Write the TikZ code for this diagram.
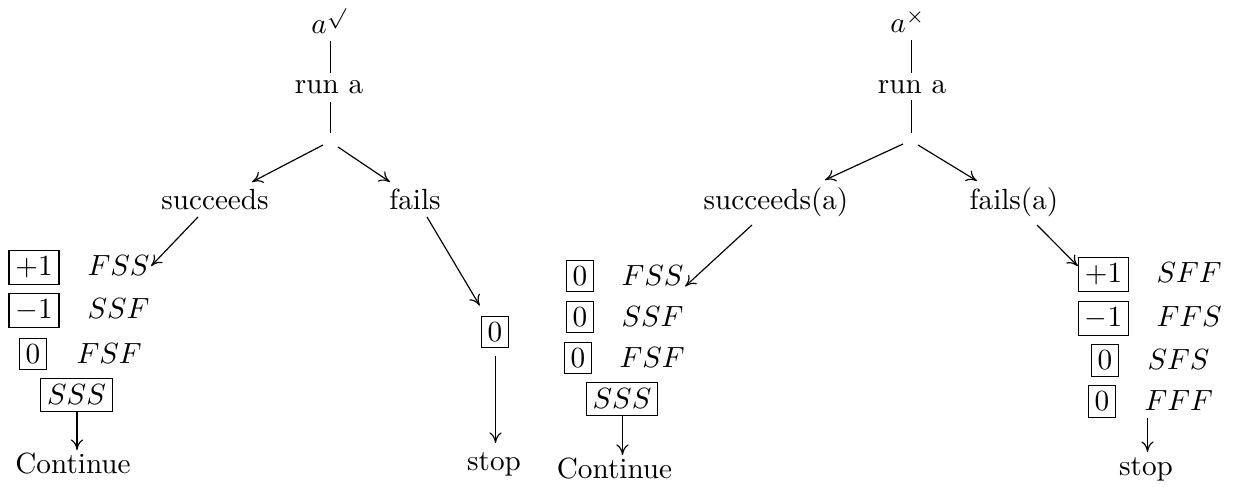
\documentclass[tikz,border=0pt]{standalone}
\usetikzlibrary{calc,arrows.meta}
\begin{document}
\begin{tikzpicture}[x=0.3425pt,y=-0.3425pt,>={To[length=3.6pt,width=4.2pt]},
  lab/.style={inner sep=0pt,anchor=base},
  lw/.style={inner sep=0pt,anchor=base west},
  vbox/.style={draw,inner sep=2.2pt,anchor=base}]
\useasboundingbox (0,0) rectangle (1239,487);
% ---------------- left tree ----------------
\node[lab] (aL) at (329.5,34) {$a^{\surd}$};
\node[lab] (runL) at (329,94) {run a};
\coordinate (splitL) at (330,140);
\node[lab] (succL) at (215,210) {succeeds};
\node[lab] (failL) at (415,210) {fails};
% rows under succeeds
\node[vbox] (b1L) at (34,276) {$+1$};
\node[lw] (fssL) at (87,276) {$FSS$};
\node[vbox] (b2L) at (34,319) {$-1$};
\node[lw] (ssfL) at (87,319) {$SSF$};
\node[vbox] (b3L) at (33,363.4) {$0$};
\node[lw] (fsfL) at (76,363.4) {$FSF$};
\node[vbox] (sssL) at (76.5,404.8) {$SSS$};
\node[lab] (contL) at (73,474) {Continue};
% under fails
\node[vbox] (b4L) at (495,341.4) {$0$};
\node[lab] (stopL) at (494,471) {stop};
% connectors
\draw ($(aL.base -| runL.base)+(1.5,7)$) -- ($(runL.base)+(1.5,-21)$);
\draw ($(runL.base)+(1.5,8)$) -- ($(splitL)+(0.5,-7)$);
\draw[->] ($(splitL)+(-7,5)$) -- ($(succL.base)+(37,-28)$);
\draw[->] ($(splitL)+(8,7)$) -- ($(failL.base)+(-25,-28)$);
\draw[->] ($(succL.base)+(-17,7)$) -- ($(fssL.east)+(1,0)$);
\draw[->] ($(failL.base)+(12,7)$) -- ($(b4L.north west)+(-1,-10)$);
\draw[->] ($(sssL.south)+(0.5,0)$) -- ($(sssL.south |- contL.base)+(0.5,-24)$);
\draw[->] ($(b4L.south)+(0.5,8)$) -- ($(b4L.south |- stopL.base)+(0.5,-28)$);
% ---------------- right tree ----------------
\node[lab] (aR) at (908,33) {$a^{\times}$};
\node[lab] (runR) at (912,94) {run a};
\coordinate (splitR) at (911,140);
\node[lab] (succR) at (776,210) {succeeds(a)};
\node[lab] (failR) at (1014,210) {fails(a)};
% rows under succeeds(a)
\node[vbox] (b1R) at (580,285.4) {$0$};
\node[lw] (fssR) at (621,285.4) {$FSS$};
\node[vbox] (b2R) at (580,326.4) {$0$};
\node[lw] (ssfR) at (621,326.4) {$SSF$};
\node[vbox] (b3R) at (578,367.4) {$0$};
\node[lw] (fsfR) at (619,367.4) {$FSF$};
\node[vbox] (sssR) at (622,408.8) {$SSS$};
\node[lab] (contR) at (614.5,479) {Continue};
% rows under fails(a)
\node[vbox] (b5R) at (1103.5,283) {$+1$};
\node[lw] (sffR) at (1156,283) {$SFF$};
\node[vbox] (b6R) at (1103.5,327) {$-1$};
\node[lw] (ffsR) at (1156,327) {$FFS$};
\node[vbox] (b7R) at (1105,370) {$0$};
\node[lw] (sfsR) at (1147,370) {$SFS$};
\node[vbox] (b8R) at (1102,411) {$0$};
\node[lw] (fffR) at (1144,411) {$FFF$};
\node[lab] (stopR) at (1146,476) {stop};
% connectors
\draw ($(aR.base -| runR.base)+(-0.5,7)$) -- ($(runR.base)+(-0.5,-21)$);
\draw ($(runR.base)+(-0.5,6)$) -- ($(splitR)+(0.5,-7)$);
\draw[->] ($(splitR)+(-8,4)$) -- ($(succR.base)+(49,-30)$);
\draw[->] ($(splitR)+(7,5)$) -- ($(failR.base)+(-37,-29)$);
\draw[->] ($(succR.base)+(-24,15)$) -- ($(fssR.base east)+(1,1)$);
\draw[->] ($(failR.base)+(23,15)$) -- ($(b5R.north west)+(0,9)$);
\draw[->] ($(sssR.south)+(0.5,0)$) -- ($(sssR.south |- contR.base)+(0.5,-24)$);
\draw[->] ($(fffR.base west)+(3.5,7)$) -- ($(fffR.base west |- stopR.base)+(3.5,-24)$);
\end{tikzpicture}
\end{document}
